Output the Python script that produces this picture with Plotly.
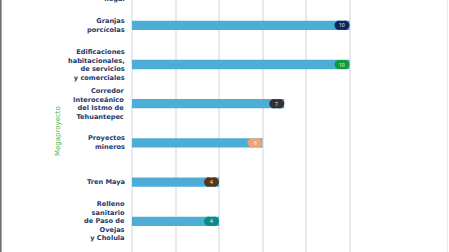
import plotly.graph_objects as go

categories = [
    "Tala y<br>extracción<br>de madera<br>ilegal",
    "Granjas<br>porcícolas",
    "Edificaciones<br>habitacionales,<br>de servicios<br>y comerciales",
    "Corredor<br>Interoceánico<br>del Istmo de<br>Tehuantepec",
    "Proyectos<br>mineros",
    "Tren Maya",
    "Relleno<br>sanitario<br>de Paso de<br>Ovejas<br>y Cholula",
]
values = [None, 10, 10, 7, 6, 4, 4]
pill_colors = [None, "#0b2860", "#0f9a3a", "#333333", "#f2a277", "#5b3418", "#0b8a8c"]
axis_title = "Megaproyecto"
x_ticks = [0, 2, 4, 6, 8, 10, 12]

W, H = 449, 252
L, R = 132, 56
plot_w = W - L - R
x_range = [0, 12]
px_per_unit = plot_w / (x_range[1] - x_range[0])
row_px = 39.2
first_px = 25.3 - row_px
y_top = -first_px / row_px
y_bot = (H - first_px) / row_px

bar_color = "#4caed6"
label_color = "#1f3a6b"

idx = list(range(len(categories)))
bx = [v for v in values if v is not None]
by = [i for i, v in zip(idx, values) if v is not None]
bc = [c for c, v in zip(pill_colors, values) if v is not None]

fig = go.Figure()
fig.add_trace(go.Bar(
    x=bx, y=by, orientation="h", marker=dict(color=bar_color, line=dict(width=0)),
    width=9.3 / row_px, hoverinfo="skip",
))

pill_w, pill_h = 15, 9
r = pill_h / 2
cx1 = [v - r / px_per_unit for v in bx]
cx2 = [v - (pill_w - r) / px_per_unit for v in bx]
cxm = [v - (pill_w / 2) / px_per_unit for v in bx]
for xs, sym, size in [(cx1, "circle", pill_h), (cx2, "circle", pill_h), (cxm, "square", pill_h)]:
    fig.add_trace(go.Scatter(
        x=xs, y=by, mode="markers",
        marker=dict(symbol=sym, size=size, color=bc, line=dict(width=0)),
        hoverinfo="skip",
    ))

for v, yy in zip(bx, by):
    fig.add_annotation(
        x=v - (pill_w / 2) / px_per_unit, y=yy, text=str(v), showarrow=False,
        font=dict(family="Open Sans", size=5, color="white"),
        xanchor="center", yanchor="middle",
    )

def ypaper(i):
    return (y_bot - i) / (y_bot - y_top)

for i, c in zip(idx, categories):
    fig.add_annotation(
        xref="x", yref="paper", x=0, y=ypaper(i), text="<b>" + c + "</b>", showarrow=False,
        xanchor="right", yanchor="middle", align="right", xshift=-5,
        font=dict(family="DejaVu Sans", size=6.6, color=label_color),
    )

fig.add_annotation(
    xref="paper", yref="paper", x=(58 - L) / plot_w, y=1 - 131 / H,
    text=axis_title, textangle=-90, showarrow=False,
    xanchor="center", yanchor="middle",
    font=dict(family="DejaVu Sans", size=7, color="#45b040"),
)

fig.add_shape(type="line", xref="paper", yref="paper", x0=(0.8 - L) / plot_w, x1=(0.8 - L) / plot_w,
              y0=0, y1=1, line=dict(color="#6e6e6e", width=1.6))
fig.add_shape(type="line", xref="paper", yref="paper", x0=(447.5 - L) / plot_w, x1=(447.5 - L) / plot_w,
              y0=0, y1=1, line=dict(color="#ececec", width=1))

fig.update_layout(
    width=W, height=H, margin=dict(l=L, r=R, t=0, b=0),
    paper_bgcolor="white", plot_bgcolor="white", showlegend=False,
    xaxis=dict(range=x_range, tickvals=x_ticks, showticklabels=False, showgrid=True,
               gridcolor="#e9e9e9", gridwidth=1.6, zeroline=True, zerolinecolor="#e9e9e9",
               zerolinewidth=1.6, fixedrange=True),
    yaxis=dict(range=[y_bot, y_top], showticklabels=False, showgrid=False, zeroline=False,
               fixedrange=True),
)
fig.write_html("out.html", config={"displayModeBar": False})
